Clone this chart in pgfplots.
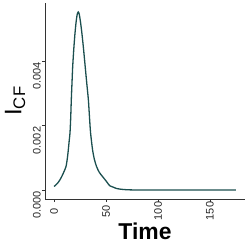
\documentclass[border=0pt]{standalone}
\usepackage{pgfplots}
\pgfplotsset{compat=1.18}
\usepackage{fontspec}
\setmainfont{Liberation Sans}
\definecolor{curve}{RGB}{27,79,79}
\definecolor{axgrey}{RGB}{51,51,51}
\definecolor{txtgrey}{RGB}{40,40,40}
\begin{document}
\begin{tikzpicture}
\begin{axis}[
  scale only axis,
  width=200bp, height=196bp,
  xmin=-8.75, xmax=183.75,
  ymin=-0.000277, ymax=0.005806,
  axis lines*=left,
  axis line style={axgrey, line width=0.7bp, -},
  tick align=outside,
  major tick length=3bp,
  tick style={axgrey, line width=0.7bp},
  xtick={0,50,100,150},
  ytick={0,0.002,0.004},
  yticklabels={0.000,0.002,0.004},
  scaled y ticks=false,
  /pgf/number format/assume math mode=true,
  ticklabel style={font=\fontsize{11}{11}\selectfont, text=txtgrey},
  xticklabel style={rotate=90, anchor=center, xshift=-9bp},
  yticklabel style={rotate=90, anchor=south east, inner sep=1bp},
  xlabel={\textbf{Time}},
  xlabel style={font=\fontsize{23}{23}\selectfont, at={(axis description cs:0.5,0)}, anchor=center, yshift=-32bp},
]
\addplot[curve, line width=1.3bp, smooth, tension=0.4] coordinates {
(0,0.000111) (3,0.00020) (5.3,0.00030) (7.37,0.000421) (9.5,0.00057) (11.48,0.000731)
(12.7,0.00097) (13.68,0.001248) (14.6,0.00155) (15.31,0.001774) (16.0,0.00225) (16.56,0.002796) (17.2,0.00330)
(17.89,0.003827) (19.0,0.00440) (20.10,0.004861) (21.3,0.00525) (22.3,0.00546) (23.25,0.005529)
(24.2,0.00546) (25.4,0.00522) (26.79,0.004861) (28.4,0.00436) (29.95,0.003827) (31.5,0.00330)
(33.01,0.002796) (34.1,0.00225) (35.12,0.001774) (37.03,0.001248) (38.8,0.00095) (40.86,0.000731)
(43.5,0.00055) (46.60,0.000421) (50.43,0.000266) (53.59,0.000133) (56.75,0.000093) (60,0.00005)
(63.16,0.000031) (70,0.00001) (80,0.000003) (100,0) (125,0) (150,0) (175,0)
};
\end{axis}
\node[font=\fontsize{24}{24}\selectfont, rotate=90, anchor=center] at (-30bp,98bp) {I\textsubscript{CF}};
\pgfresetboundingbox
\useasboundingbox (-45bp,-50bp) rectangle (204bp,199bp);
\end{tikzpicture}
\end{document}
